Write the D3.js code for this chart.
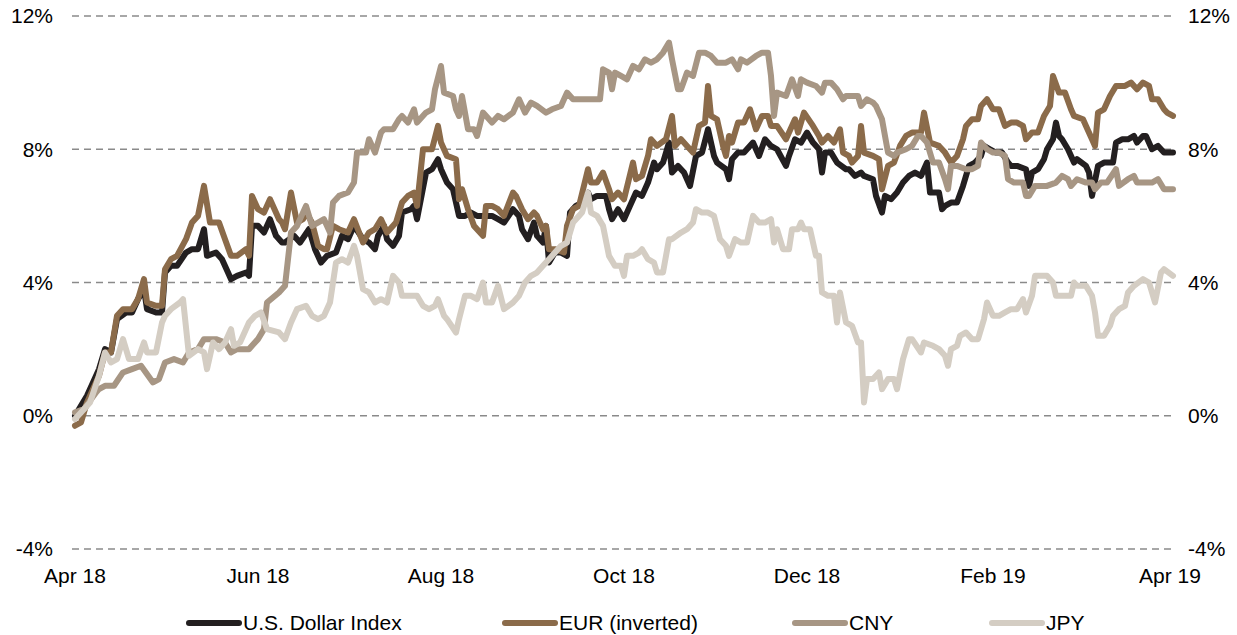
<!DOCTYPE html>
<html>
<head>
<meta charset="utf-8">
<script src="https://cdn.jsdelivr.net/npm/d3@7"></script>
<style>
  html, body { margin: 0; padding: 0; background: #fff; }
  svg { display: block; }
</style>
</head>
<body>
<svg id="chart" width="1237" height="635"></svg>
<script>
// ---------------- DATA ----------------
// Day offsets counted from startDate; values are % change.
const startDate = "2018-04-01";
const endDate = "2019-04-01";
const yTicks = [-4, 0, 4, 8, 12];
const xTickLabels = ["Apr 18", "Jun 18", "Aug 18", "Oct 18", "Dec 18", "Feb 19", "Apr 19"];
const xTickDates = ["2018-04-01", "2018-06-01", "2018-08-01", "2018-10-01", "2018-12-01", "2019-02-01", "2019-04-01"];
const seriesNames = ["U.S. Dollar Index", "EUR (inverted)", "CNY", "JPY"];
const seriesColors = ["#231f20", "#8b6b4a", "#a79684", "#d4cdc3"];

const usd = [[0,0.0],[4,0.6],[8,1.4],[10,2.0],[12,1.9],[14,2.9],[17,3.1],[19,3.1],[21,3.5],[23,3.8],[24,3.2],[27,3.1],[29,3.1],[30,4.3],[32,4.5],[34,4.5],[37,4.9],[39,5.0],[41,5.0],[43,5.6],[44,4.8],[47,4.9],[49,4.7],[51,4.3],[52,4.1],[54,4.2],[57,4.3],[58,4.2],[59,5.7],[61,5.7],[63,5.5],[65,5.9],[67,5.4],[69,5.2],
[70,5.2],[73,5.4],[75,5.2],[78,5.6],[80,5.0],[82,4.6],[84,4.8],[87,4.9],[89,5.4],[91,5.3],[93,5.7],[96,5.3],[98,5.2],[100,5.0],[101,5.4],[103,5.7],[104,5.3],[106,5.1],[108,5.4],[109,6.1],[112,6.2],[113,6.3],[114,5.9],[117,7.3],[119,7.4],[121,7.7],[122,7.4],[124,7.0],[126,6.8],[128,6.0],[130,6.0],[132,6.1],[134,6.0],[137,6.0],[139,6.0],[141,5.9],[143,5.8],
[146,6.2],[148,6.0],[149,5.6],[151,5.3],[153,5.8],[154,5.4],[156,5.2],[157,5.7],[158,4.6],[160,4.9],[162,4.9],[164,4.8],[165,6.1],[167,6.3],[169,6.4],[171,6.7],[172,6.5],[174,6.6],[177,6.6],[178,6.2],[179,5.9],[181,6.2],[183,5.9],[185,6.3],[187,6.7],[189,6.6],[191,7.0],[193,7.6],[194,7.4],[196,7.6],[198,8.2],[199,7.3],[201,7.5],[203,7.3],[205,6.9],[207,7.8],[209,7.9],[211,8.6],[213,7.8],[214,7.6],[217,7.4],
[218,7.1],[219,7.7],[221,7.9],[223,7.9],[226,8.2],[228,7.8],[230,8.3],[232,8.1],[234,8.0],[237,7.5],[238,7.8],[240,8.3],[242,8.2],[244,8.5],[246,8.2],[248,8.0],[249,7.3],[250,7.9],[252,7.9],[254,7.6],[257,7.4],[258,7.4],[260,7.2],[262,7.3],[263,7.2],[266,7.1],[267,6.6],[269,6.1],[270,6.6],[272,6.5],[274,6.7],[276,7.0],[278,7.2],[280,7.3],[282,7.2],[284,7.6],[285,6.7],[288,6.7],[289,6.2],
[290,6.3],[292,6.4],[294,6.4],[296,6.9],[298,7.5],[300,7.6],[302,7.8],[303,8.1],[305,8.0],[307,7.9],[309,7.9],[311,7.6],[312,7.5],[314,7.5],[317,7.4],[318,6.9],[319,7.3],[321,7.4],[323,7.7],[324,8.0],[326,8.3],[327,8.8],[328,8.4],[329,8.3],[331,8.0],[333,7.6],[334,7.7],[337,7.5],[338,7.3],[339,6.6],[341,7.5],[343,7.6],[346,7.6],[347,8.2],[349,8.3],[351,8.3],[353,8.4],[354,8.2],[356,8.4],[357,8.4],[359,8.0],[361,8.1],[363,7.9],[366,7.9]];

const eur = [[0,-0.3],[2,-0.2],[4,0.4],[8,1.2],[10,1.9],[12,1.9],[14,3.0],[16,3.2],[19,3.2],[21,3.5],[23,4.1],[24,3.4],[27,3.3],[29,3.3],[30,4.4],[32,4.7],[34,4.8],[37,5.3],[39,5.8],[41,6.0],[43,6.9],[45,5.8],[48,5.8],[50,5.3],[52,4.8],[54,4.8],[57,5.0],[58,4.8],[59,6.6],[61,6.2],[63,6.1],[65,6.5],[68,5.9],[69,5.8],
[70,5.6],[72,6.7],[74,5.8],[76,5.9],[77,6.1],[79,5.8],[81,5.1],[83,5.0],[84,5.0],[86,5.7],[88,5.6],[91,5.5],[93,5.9],[96,5.2],[98,5.5],[100,5.6],[102,5.9],[104,5.5],[107,5.8],[109,6.4],[111,6.6],[113,6.7],[114,6.3],[116,8.0],[119,8.0],[121,8.7],[122,8.2],[124,7.8],[127,7.7],[128,6.5],[129,6.8],[131,6.2],[133,5.7],[136,5.4],[137,6.3],[139,6.3],[141,6.2],[143,6.0],
[146,6.7],[147,6.6],[149,6.2],[151,5.9],[153,6.1],[154,6.0],[156,5.6],[157,5.7],[158,5.0],[160,5.0],[163,4.9],[164,5.7],[166,6.2],[168,6.3],[171,7.4],[172,7.0],[174,7.0],[176,7.3],[178,6.8],[179,6.5],[181,6.7],[183,6.5],[186,7.6],[187,7.1],[189,7.2],[191,7.8],[192,8.3],[194,8.1],[197,8.3],[199,9.0],[200,8.1],[202,8.3],[204,8.1],[206,7.9],[208,8.7],[210,8.8],[211,9.9],[212,9.0],[214,8.9],[216,8.1],
[217,7.8],[218,8.4],[219,8.2],[221,8.8],[223,8.8],[225,9.2],[227,8.6],[229,9.0],[231,9.0],[232,8.7],[234,8.7],[237,8.3],[238,8.5],[240,8.9],[241,8.5],[243,9.1],[246,8.7],[248,8.4],[249,8.2],[251,8.4],[253,8.2],[255,8.6],[256,7.9],[258,7.8],[259,7.6],[261,7.8],[262,8.7],[263,7.9],[266,7.8],[268,7.7],[269,6.8],[271,7.5],[273,7.6],[275,8.1],[277,8.4],[279,8.5],[282,8.5],[283,9.1],[285,8.2],[288,8.1],[290,7.9],
[292,7.6],[294,7.8],[296,8.3],[297,8.7],[299,8.9],[301,8.9],[302,9.3],[304,9.5],[306,9.2],[308,9.2],[310,8.7],[312,8.8],[314,8.8],[316,8.7],[317,8.3],[319,8.5],[321,8.5],[323,9.0],[325,9.3],[326,10.2],[328,9.7],[330,9.7],[332,9.2],[333,9.0],[336,8.9],[337,8.7],[339,8.3],[340,8.1],[341,9.1],[343,9.2],[345,9.6],[347,9.9],[350,9.9],[352,10.0],[354,9.8],[356,10.0],[358,9.9],[359,9.5],[361,9.5],[363,9.2],[364,9.1],[366,9.0]];

const cny = [[0,0.1],[3,0.2],[7,0.7],[8,0.8],[10,0.9],[13,0.9],[16,1.3],[19,1.4],[22,1.5],[26,1.0],[28,1.1],[30,1.6],[33,1.7],[36,1.6],[38,1.9],[41,2.0],[43,2.3],[47,2.3],[50,2.2],[52,1.9],[54,2.0],[58,2.0],[61,2.3],[63,2.6],[64,3.4],[68,3.7],
[70,3.9],[72,5.5],[74,5.7],[77,6.3],[79,5.7],[81,5.8],[83,5.9],[85,5.5],[86,6.4],[88,6.6],[91,6.7],[93,7.0],[94,7.9],[97,7.9],[98,8.3],[100,7.9],[102,8.5],[103,8.6],[106,8.6],[108,8.9],[109,9.0],[111,8.8],[113,9.2],[114,8.8],[117,9.1],[119,9.2],[120,9.8],[122,10.5],[123,9.7],[126,9.6],[127,9.2],[128,9.0],[129,9.6],[131,8.6],[133,8.6],[134,8.4],[136,9.1],[139,8.8],[141,9.0],[143,8.9],
[146,9.1],[148,9.5],[150,9.1],[152,9.4],[154,9.3],[157,9.1],[159,9.2],[162,9.3],[164,9.7],[166,9.5],[168,9.5],[171,9.5],[175,9.5],[176,10.4],[178,10.3],[179,9.8],[180,10.3],[182,10.2],[184,10.1],[186,10.5],[188,10.4],[190,10.7],[192,10.6],[194,10.7],[196,10.9],[198,11.2],[199,10.7],[201,9.8],[202,9.8],[204,10.3],[206,10.2],[208,10.9],[210,10.9],[212,10.8],[214,10.6],[217,10.6],
[219,10.7],[221,10.4],[222,10.7],[224,10.6],[227,10.8],[229,10.9],[231,10.9],[232,10.2],[233,9.0],[234,9.7],[237,9.6],[239,10.1],[241,9.6],[242,10.1],[244,10.0],[247,9.9],[249,9.7],[250,10.0],[252,10.0],[254,9.8],[256,9.5],[257,9.6],[259,9.6],[261,9.6],[262,9.3],[264,9.5],[266,9.4],[267,9.3],[269,8.9],[270,8.4],[271,7.9],[273,7.8],[274,7.9],[277,8.0],[279,8.1],[281,8.4],[282,8.4],[284,8.2],[286,7.6],[288,7.6],[290,7.1],
[291,6.8],[292,7.5],[294,7.5],[297,7.4],[299,7.4],[301,7.5],[302,8.2],[304,8.0],[306,7.9],[308,7.9],[310,7.8],[311,7.1],[313,7.0],[316,7.0],[317,6.6],[318,6.6],[320,6.9],[322,6.9],[324,6.9],[327,7.0],[329,7.2],[331,7.1],[332,6.9],[334,7.1],[337,7.0],[339,7.0],[340,6.8],[342,7.0],[344,7.0],[347,7.4],[348,6.9],[351,7.1],[353,7.2],[354,7.0],[357,7.0],[359,7.0],[361,7.1],[363,6.8],[366,6.8]];

const jpy = [[0,-0.1],[2,0.1],[5,0.4],[8,1.2],[10,1.9],[12,1.6],[14,1.7],[16,2.3],[18,1.7],[21,1.7],[23,2.2],[24,1.9],[27,1.9],[29,2.8],[30,3.0],[32,3.2],[35,3.4],[36,3.5],[38,1.8],[41,2.0],[43,1.9],[44,1.4],[46,2.2],[48,2.0],[50,2.2],[52,2.6],[53,2.1],[55,2.2],[58,2.8],[60,3.0],[62,3.1],[64,2.6],[68,2.5],
[70,2.3],[72,2.8],[74,3.2],[77,3.3],[79,3.0],[81,2.9],[83,3.0],[85,3.4],[87,4.6],[89,4.7],[91,4.6],[93,5.1],[94,4.8],[96,3.8],[98,3.7],[100,3.4],[102,3.5],[104,3.4],[106,4.2],[108,4.0],[109,3.6],[112,3.6],[114,3.6],[116,3.3],[118,3.2],[120,3.3],[121,3.5],[123,3.0],[124,2.9],[127,2.5],[128,2.9],[130,3.6],[132,3.6],[134,3.5],[136,4.0],[137,3.4],[139,3.4],[141,3.9],[143,3.2],
[146,3.4],[148,3.6],[150,4.0],[152,4.2],[154,4.3],[156,4.5],[158,4.7],[160,4.9],[162,5.1],[164,5.2],[166,5.8],[168,6.0],[169,6.1],[171,6.7],[172,6.1],[174,6.0],[176,5.7],[178,4.8],[180,4.5],[182,4.5],[183,4.2],[184,4.8],[186,4.8],[188,4.9],[189,5.0],[191,4.7],[193,4.6],[194,4.3],[196,4.3],[198,5.3],[199,5.3],[202,5.5],[204,5.6],[206,5.8],[207,6.2],[209,6.1],[211,6.1],[213,6.0],[215,5.3],[217,5.1],
[218,4.8],[220,5.3],[222,5.2],[224,5.2],[226,6.0],[228,5.8],[230,5.8],[232,5.9],[233,5.2],[234,5.6],[236,5.0],[238,5.0],[239,5.6],[241,5.6],[242,5.8],[243,5.6],[245,5.6],[247,4.8],[248,4.8],[249,3.7],[251,3.6],[253,3.6],[254,2.8],[255,3.7],[257,2.8],[259,2.7],[261,2.2],[262,2.2],[263,0.4],[264,1.1],[266,1.1],[268,1.3],[269,0.8],[271,1.1],[273,1.1],[274,0.8],[276,1.7],[278,2.3],[279,2.3],[282,1.9],[283,2.2],[286,2.1],[288,2.0],[290,1.8],
[291,1.5],[292,2.0],[294,2.1],[295,2.4],[297,2.5],[299,2.3],[301,2.3],[303,2.9],[304,3.4],[306,3.0],[308,3.0],[310,3.1],[312,3.2],[314,3.2],[316,3.5],[317,3.1],[319,3.6],[320,4.2],[322,4.2],[324,4.2],[326,4.0],[327,3.6],[329,3.6],[332,3.6],[333,4.0],[334,3.9],[337,3.9],[339,3.6],[340,3.1],[341,2.4],[343,2.4],[345,2.7],[346,3.0],[348,3.2],[350,3.3],[351,3.7],[353,3.9],[356,4.1],[358,4.0],[360,3.4],[362,4.3],[363,4.4],[366,4.2]];

const seriesData = [usd, eur, cny, jpy];

// ---------------- CHART ----------------
const svg = d3.select("#chart");
const parse = d3.timeParse("%Y-%m-%d");
const t0 = parse(startDate);

const x = d3.scaleTime().domain([parse(startDate), parse(endDate)]).range([75, 1170]);
const y = d3.scaleLinear().domain([-4, 12]).range([549, 16]);

const FONT = "'Liberation Sans', Arial, sans-serif";
const FS = 21;

// gridlines
svg.append("g").selectAll("line").data(yTicks).join("line")
  .attr("x1", 72).attr("x2", 1175)
  .attr("y1", d => y(d)).attr("y2", d => y(d))
  .attr("stroke", "#8a8a8a").attr("stroke-width", 1.6)
  .attr("stroke-dasharray", "7,5");

// left and right y labels
const fmt = d => d + "%";
svg.append("g").selectAll("text").data(yTicks).join("text")
  .attr("x", 53).attr("y", d => y(d)).attr("dy", "0.35em")
  .attr("text-anchor", "end").attr("font-family", FONT).attr("font-size", FS).attr("fill", "#000")
  .text(fmt);
svg.append("g").selectAll("text").data(yTicks).join("text")
  .attr("x", 1188).attr("y", d => y(d)).attr("dy", "0.35em")
  .attr("text-anchor", "start").attr("font-family", FONT).attr("font-size", FS).attr("fill", "#000")
  .text(fmt);

// x labels
svg.append("g").selectAll("text").data(xTickDates).join("text")
  .attr("x", d => x(parse(d))).attr("y", 583)
  .attr("text-anchor", "middle").attr("font-family", FONT).attr("font-size", FS).attr("fill", "#000")
  .text((d, i) => xTickLabels[i]);

// lines
const line = d3.line()
  .x(d => x(d3.timeDay.offset(t0, d[0])))
  .y(d => y(d[1]))
  .curve(d3.curveLinear);

svg.append("g").selectAll("path").data(seriesData).join("path")
  .attr("d", line)
  .attr("fill", "none")
  .attr("stroke", (d, i) => seriesColors[i])
  .attr("stroke-width", 6)
  .attr("stroke-linejoin", "round")
  .attr("stroke-linecap", "round");

// legend
const legendX = [189, 505, 795, 992];
const lg = svg.append("g").selectAll("g").data(seriesNames).join("g")
  .attr("transform", (d, i) => `translate(${legendX[i]},623)`);
lg.append("line").attr("x1", 0).attr("x2", 50).attr("y1", 0).attr("y2", 0)
  .attr("stroke", (d, i) => seriesColors[i]).attr("stroke-width", 6).attr("stroke-linecap", "round");
lg.append("text").attr("x", 54).attr("y", 0).attr("dy", "0.35em")
  .attr("font-family", FONT).attr("font-size", FS).attr("fill", "#000").text(d => d);
</script>
</body>
</html>
